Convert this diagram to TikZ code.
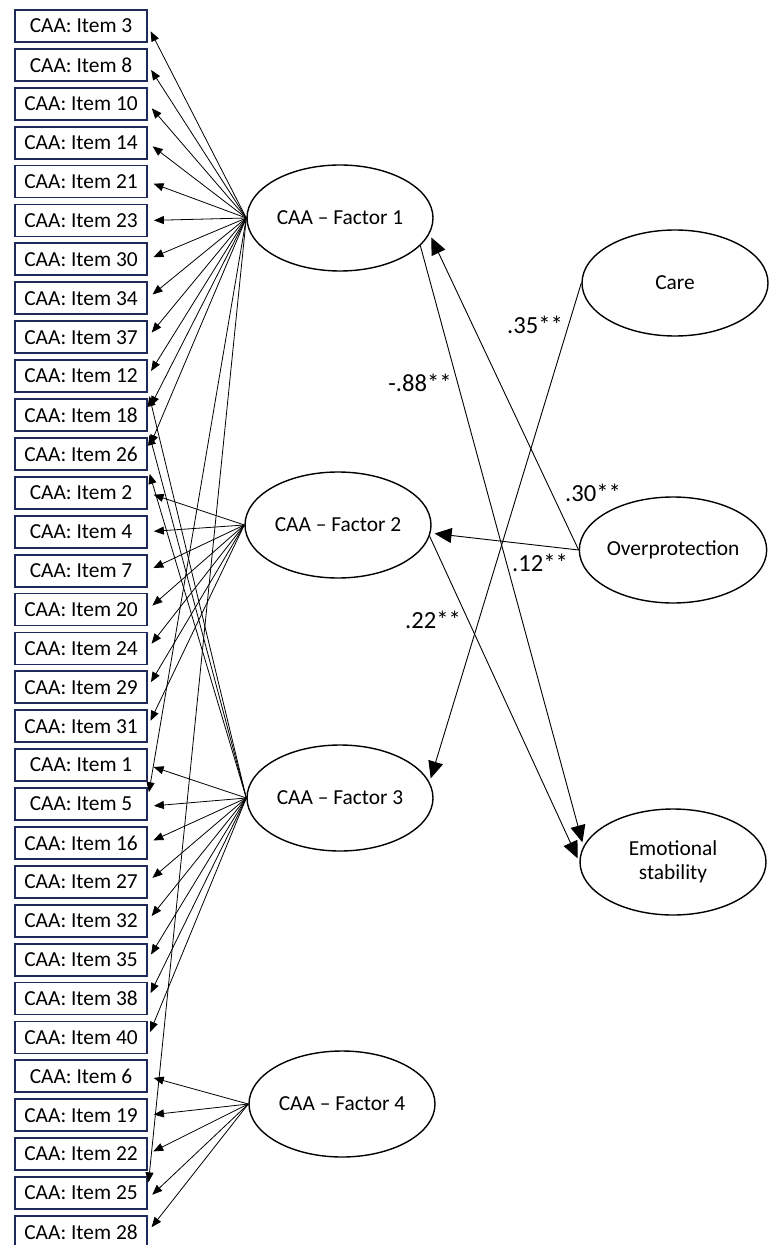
\documentclass[tikz,border=0pt]{standalone}
\usepackage{fontspec}
\setmainfont{Carlito}
\usetikzlibrary{shapes.geometric,arrows.meta}
\definecolor{itemblue}{RGB}{32,42,90}

\begin{document}
\begin{tikzpicture}[x=0.5pt, y=-0.5pt,
		itembox/.style={draw=itemblue, line width=0.9pt, minimum width=66pt, minimum height=16pt, inner sep=0pt, font=\fontsize{10.7}{12}\selectfont},
		factor/.style={draw, ellipse, line width=0.7pt, minimum width=93pt, minimum height=53pt, inner sep=0pt, align=center, font=\fontsize{10.7}{12}\selectfont},
		load/.style={-{Triangle[length=5pt, width=4pt]}, line width=0.4pt, shorten >=3pt},
		effect/.style={-{Triangle[length=8.5pt, width=7.5pt]}, line width=0.45pt, shorten >=2pt},
		coef/.style={font=\fontsize{12.3}{14}\selectfont}]
		\useasboundingbox (0,0) rectangle (768,1245);

		% indicators
		\foreach \n [count=\i from 0] in {3,8,10,14,21,23,30,34,37,12,18,26,2,4,7,20,24,29,31,1,5,16,27,32,35,38,40,6,19,22,25,28}
			\node[itembox] (i\n) at (81, {26+38.9*\i}) {CAA: Item \n};

		% latent variables
		\node[factor] (f1) at (340,218) {CAA – Factor 1};
		\node[factor] (f2) at (338,525) {CAA – Factor 2};
		\node[factor] (f3) at (340,798) {CAA – Factor 3};
		\node[factor] (f4) at (342,1104) {CAA – Factor 4};
		\node[factor] (care) at (675,283) {Care};
		\node[factor] (over) at (673,550) {Overprotection};
		\node[factor] (emo) at (673,862) {Emotional\\stability};

		% loadings
		\foreach \n in {3,8,10,14,21,23,30,34,37,12}
			\draw[load] (f1.west) -- (i\n.east);
		\draw[load] (f1.west) -- (i18.3);
		\draw[load] (f1.west) -- (i26.3);
		\draw[load] (f1.west) -- (i5.5);
		\draw[load] (f1.west) -- (i25.4);
		\foreach \n in {2,4,7,20,24,29,31}
			\draw[load] (f2.west) -- (i\n.east);
		\foreach \n in {1,16,27,32,35,38,40}
			\draw[load] (f3.west) -- (i\n.east);
		\foreach \n in {12,18,26}
			\draw[load] (f3.west) -- (i\n.-12);
		\draw[load] (f3.west) -- (i5.-2);
		\foreach \n in {6,19,22,28}
			\draw[load] (f4.west) -- (i\n.east);
		\draw[load] (f4.west) -- (i25.-5);

		% structural paths
		\draw[effect] (care.west) -- (f3.10);
		\draw[effect] (over.west) -- (f1.-10);
		\draw[effect] (over.west) -- (f2.-5);
		\draw[effect] (f1.-19) -- (emo.170);
		\draw[effect] (f2.-7) -- (emo.180);

		\node[coef] (c35) at (535,325) {.35**};
		\node[coef] (c88) at (420,383) {-.88**};
		\node[coef] (c30) at (593,493) {.30**};
		\node[coef] (c12) at (540,563) {.12**};
		\node[coef] (c22) at (433,620) {.22**};
	\end{tikzpicture}
\end{document}
